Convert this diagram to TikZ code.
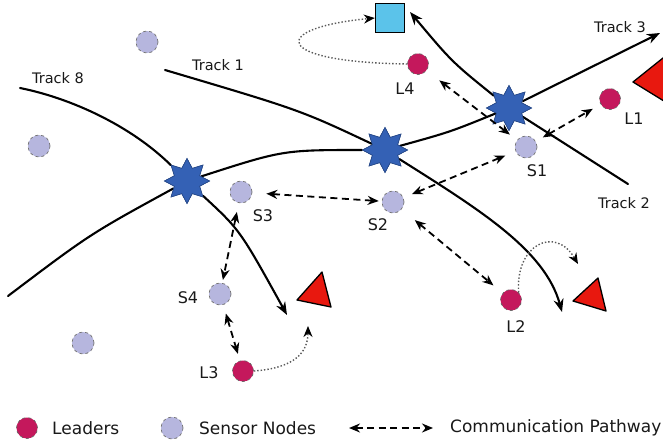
\documentclass[tikz,border=0pt]{standalone}
\usepackage{fontspec}
\setmainfont{DejaVu Sans}
\usetikzlibrary{shapes.geometric,arrows.meta}
\definecolor{starblue}{HTML}{3461B5}
\definecolor{sensorc}{HTML}{B6B6DE}
\definecolor{leaderc}{HTML}{C4185C}
\definecolor{trired}{HTML}{E8180F}
\definecolor{sqcyan}{HTML}{5BC3EA}
\begin{document}
\begin{tikzpicture}[x=1pt,y=-1pt,
  trk/.style={line width=2.1pt, line cap=round},
  trka/.style={line width=2.1pt, -{Stealth[length=13pt,width=10pt]}},
  comm/.style={line width=1.8pt, dash pattern=on 7pt off 4.5pt,
     {Stealth[length=11pt,width=9pt]}-{Stealth[length=11pt,width=9pt]},
     shorten >=9pt, shorten <=9pt},
  move/.style={line width=1.4pt, dotted, draw=black!65,
     -{Stealth[length=11pt,width=9pt,black]}},
  sensor/.style={circle, fill=sensorc, draw=black!55, dashed, line width=0.7pt,
     minimum size=22pt, inner sep=0pt},
  leader/.style={circle, fill=leaderc, draw=black!60, dashed, line width=0.7pt,
     minimum size=21pt, inner sep=0pt},
  target/.style={star, star points=8, star point ratio=1.65, minimum size=45pt,
     fill=starblue, draw=starblue!75!black, line width=0.6pt, inner sep=0pt},
  tri/.style={fill=trired, draw=black, line width=1.3pt, line join=round},
  lbl/.style={inner sep=0pt, text=black!90, font=\fontsize{16}{18}\selectfont},
  tlbl/.style={inner sep=0pt, text=black!90, font=\fontsize{14.5}{17}\selectfont},
  leg/.style={inner sep=0pt, anchor=west, text=black!90, font=\fontsize{17}{19}\selectfont}]
\clip (0,0) rectangle (663,442);
\fill[white] (0,0) rectangle (663,442);

% targets (intersections)
\node[target] (X1) at (187,181) {};
\node[target] (X2) at (385,150) {};
\node[target] (X3) at (509,108) {};

% free ends of tracks
\coordinate (t8s) at (20,88);
\coordinate (t8e) at (287,315);
\coordinate (t3s) at (8,296);
\coordinate (t3e) at (660,33);
\coordinate (t1s) at (165,70);
\coordinate (t1e) at (562,312);
\coordinate (t2s) at (628,184);
\coordinate (t2e) at (410,12);

% tracks
\draw[trk] (t8s) .. controls (70,98) and (130,125) .. (X1);
\draw[trka] (X1) .. controls (240,230) .. (t8e);
\draw[trk] (t3s) .. controls (90,234) .. (X1);
\draw[trk] (X1) .. controls (283,150) .. (X2);
\draw[trk] (X2) .. controls (450,132) .. (X3);
\draw[trka] (X3) -- (t3e);
\draw[trk] (t1s) .. controls (300,110) .. (X2);
\draw[trka] (X2) .. controls (480,210) and (545,250) .. (t1e);
\draw[trk] (t2s) -- (X3);
\draw[trka] (X3) .. controls (452,62) .. (t2e);

% redraw stars on top
\node[target] at (X1) {};
\node[target] at (X2) {};
\node[target] at (X3) {};

% sensor nodes
\node[sensor] (N1) at (147,42) {};
\node[sensor] (N2) at (39,146) {};
\node[sensor] (N3) at (83,343) {};
\node[sensor] (S1) at (526,147) {};
\node[sensor] (S2) at (393,202) {};
\node[sensor] (S3) at (241,192) {};
\node[sensor] (S4) at (220,294) {};

% leaders
\node[leader] (L1) at (610,99) {};
\node[leader] (L2) at (511,300) {};
\node[leader] (L3) at (243,371) {};
\node[leader] (L4) at (418,64) {};

% labels
\node[lbl] (S1t) at (537,171) {S1};
\node[lbl] (S2t) at (378,225) {S2};
\node[lbl] (S3t) at (263,216) {S3};
\node[lbl] (S4t) at (188,298) {S4};
\node[lbl] (L1t) at (634,119) {L1};
\node[lbl] (L2t) at (516,327) {L2};
\node[lbl] (L3t) at (209,373) {L3};
\node[lbl] (L4t) at (405,89) {L4};
\node[tlbl] (T8) at (58,78) {Track 8};
\node[tlbl] (T1) at (218,65) {Track 1};
\node[tlbl] (T3) at (620,27) {Track 3};
\node[tlbl] (T2) at (624,203) {Track 2};

% base station and intruders
\node[fill=sqcyan, draw=black, line width=1.4pt, minimum size=29pt, inner sep=0pt] (BS) at (390,18) {};
\draw[tri] (297,300) -- (322,272) -- (331,307) -- cycle;
\draw[tri] (573,301) -- (598,278) -- (606,311) -- cycle;
\draw[tri] (633,82) -- (668,54) -- (672,106) -- cycle;

% communication pathways
\draw[comm, shorten <=14pt, shorten >=3pt] (S3) -- (S2);
\draw[comm, shorten >=3pt] (S3) -- (S4);
\draw[comm, shorten >=7pt] (S4) -- (L3);
\draw[comm, shorten <=17pt, shorten >=12pt] (S2) -- (L2);
\draw[comm, shorten >=11pt] (S2) -- (S1);
\draw[comm, shorten <=16pt] (L4) -- (S1);
\draw[comm, shorten <=8pt] (S1) -- (L1);

% movements
\draw[move] (L4.west) .. controls (270,62) and (270,28) .. (BS.west);
\draw[move] (L3.east) .. controls (295,368) and (308,352) .. (308,326);
\draw[move] (L2.north east) .. controls (515,245) and (555,225) .. (578,264);

% legend
\node[leader] (lg1) at (27,428) {};
\node[leg] (lg1t) at (52,428) {Leaders};
\node[sensor] (lg2) at (172,428) {};
\node[leg] (lg2t) at (199,428) {Sensor Nodes};
\coordinate (lga) at (349,428);
\coordinate (lgb) at (433,428);
\draw[comm, shorten <=0pt, shorten >=0pt] (lga) -- (lgb);
\node[leg] (lg3t) at (450,428) {Communication Pathway};
\end{tikzpicture}
\end{document}
